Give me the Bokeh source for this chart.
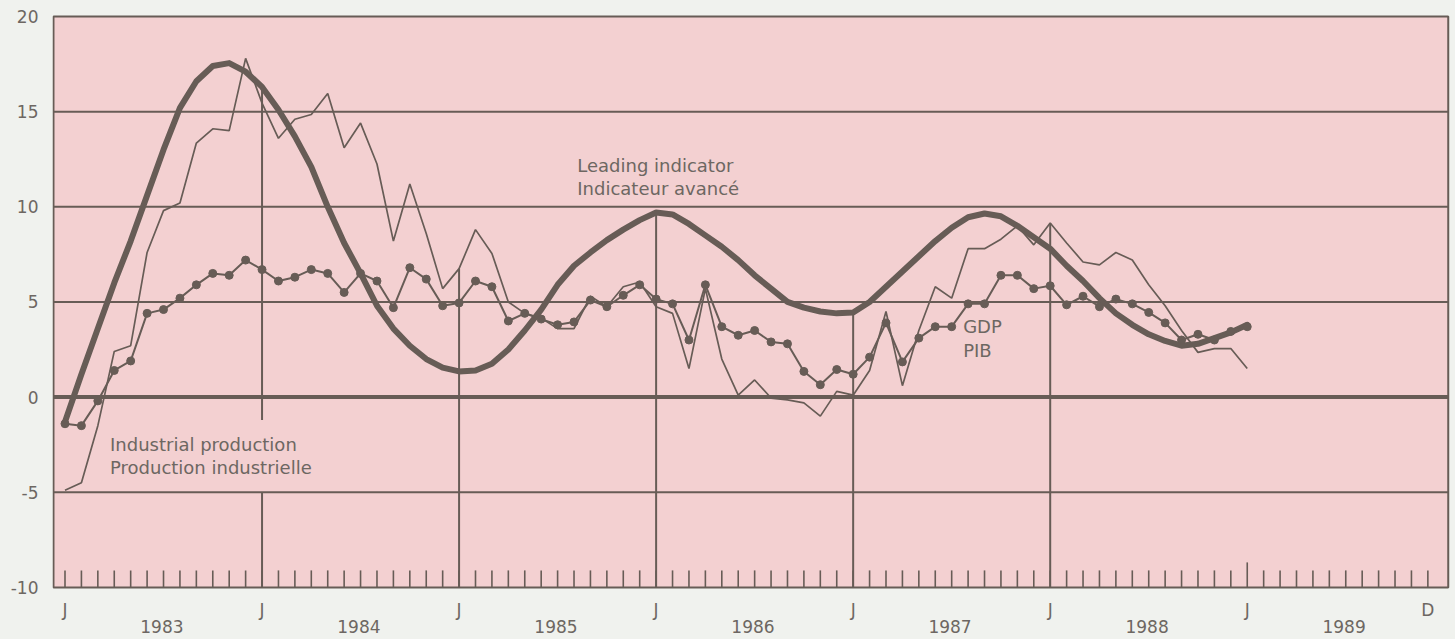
from bokeh.plotting import figure
from bokeh.models import FixedTicker
from bokeh.core.properties import value
from bokeh.embed import file_html
from bokeh.resources import INLINE

# ---------------- data (month index 0 = January 1983) ----------------
months = list(range(73))

leading = [-1.3, 1.2, 3.6, 6.0, 8.2, 10.6, 13.0, 15.2, 16.6, 17.4,
           17.55, 17.1, 16.3, 15.1, 13.7, 12.1, 10.0, 8.1, 6.5, 4.8,
           3.6, 2.7, 2.0, 1.55, 1.35, 1.4, 1.75, 2.5, 3.5, 4.6,
           5.9, 6.9, 7.6, 8.25, 8.8, 9.3, 9.7, 9.6, 9.1, 8.5,
           7.9, 7.2, 6.4, 5.7, 5.0, 4.7, 4.5, 4.4, 4.45, 5.0,
           5.8, 6.6, 7.4, 8.2, 8.9, 9.45, 9.65, 9.5, 9.0, 8.4,
           7.8, 6.9, 6.1, 5.2, 4.4, 3.8, 3.3, 2.95, 2.7, 2.8,
           3.1, 3.4, 3.8]

gdp = [-1.4, -1.5, -0.2, 1.4, 1.9, 4.4, 4.6, 5.2, 5.9, 6.5,
       6.4, 7.2, 6.7, 6.1, 6.3, 6.7, 6.5, 5.5, 6.5, 6.1,
       4.7, 6.8, 6.2, 4.8, 4.95, 6.1, 5.8, 4.0, 4.4, 4.1,
       3.8, 3.95, 5.1, 4.75, 5.35, 5.9, 5.15, 4.9, 3.0, 5.9,
       3.7, 3.25, 3.5, 2.9, 2.8, 1.35, 0.65, 1.45, 1.2, 2.1,
       3.9, 1.85, 3.1, 3.7, 3.7, 4.9, 4.9, 6.4, 6.4, 5.7,
       5.85, 4.85, 5.3, 4.75, 5.15, 4.9, 4.45, 3.9, 3.0, 3.3,
       3.0, 3.45, 3.7]

industrial = [-4.9, -4.5, -1.5, 2.4, 2.7, 7.6, 9.8, 10.2, 13.35, 14.1,
              14.0, 17.8, 15.45, 13.6, 14.6, 14.85, 15.95, 13.1, 14.4, 12.25,
              8.2, 11.2, 8.6, 5.7, 6.75, 8.8, 7.55, 5.0, 4.4, 4.15,
              3.6, 3.6, 5.3, 4.75, 5.8, 6.05, 4.75, 4.4, 1.5, 5.7,
              2.0, 0.1, 0.9, -0.05, -0.15, -0.3, -1.0, 0.3, 0.1, 1.4,
              4.5, 0.6, 3.5, 5.8, 5.2, 7.8, 7.8, 8.3, 9.0, 8.0,
              9.15, 8.1, 7.1, 6.95, 7.6, 7.2, 5.9, 4.8, 3.5, 2.35,
              2.55, 2.55, 1.5]

y_ticks = [-10, -5, 0, 5, 10, 15, 20]
y_tick_labels = ["-10", "-5", "0", "5", "10", "15", "20"]
x_label_months = [0, 12, 24, 36, 48, 60, 72, 83]
x_labels = ["J", "J", "J", "J", "J", "J", "J", "D"]
years = ["1983", "1984", "1985", "1986", "1987", "1988", "1989"]
year_drop_months = [12, 24, 36, 48, 60]

# ---------------- styling ----------------
PAGE = "#f0f2ee"
PINK = "#f3d0d1"
INK = "#675c56"
TXT = "#6d6762"
FONT = "DejaVu Sans"

W, H = 1453, 637
PX_UNIT = 19.03
PX_MONTH = 16.42
LEFT = 52
TOP_PAD = 16
y_top = 20 + TOP_PAD / PX_UNIT
y_bot = y_top - H / PX_UNIT
x_start = -12.5 / PX_MONTH
x_end = x_start + (W - LEFT) / PX_MONTH

p = figure(width=W, height=H, x_range=(x_start, x_end), y_range=(y_bot, y_top),
           output_backend="svg", toolbar_location=None, x_axis_location=None,
           min_border_left=LEFT, min_border_right=0, min_border_top=0, min_border_bottom=0,
           background_fill_color=PAGE, border_fill_color=PAGE, outline_line_color=None)
p.grid.visible = False

ax = p.yaxis[0]
ax.ticker = FixedTicker(ticks=y_ticks)
ax.major_label_overrides = dict(zip(y_ticks, y_tick_labels))
ax.axis_line_color = None
ax.major_tick_line_color = None
ax.minor_tick_line_color = None
ax.major_tick_out = 0
ax.major_tick_in = 0
ax.minor_tick_out = 0
ax.major_label_text_font = FONT
ax.major_label_text_font_size = "17px"
ax.major_label_text_color = TXT
ax.major_label_standoff = 14

# plot panel
x_left, x_right = x_start + 0.06, x_end - 0.32
p.quad(left=[x_left], right=[x_right], bottom=[-10], top=[20],
       fill_color=PINK, line_color=INK, line_width=2)

# horizontal grid lines
grid_y = [t for t in y_ticks if -10 < t < 20]
p.segment(x0=[x_left] * len(grid_y), x1=[x_right] * len(grid_y), y0=grid_y, y1=grid_y,
          line_color=INK, line_width=[4 if t == 0 else 2 for t in grid_y])

# month ticks
tick_len = 17 / PX_UNIT
tm = list(range(0, 84))
p.segment(x0=tm, x1=tm, y0=[-10] * len(tm),
          y1=[-10 + (25 / PX_UNIT if m == 72 else tick_len) for m in tm],
          line_color=INK, line_width=1.6)

# drop lines at each January
gap = (-5, -1.2)  # interruption around the industrial production label
x0s, y0s, y1s = [], [], []
for m in year_drop_months:
    top = max(leading[m], industrial[m], gdp[m])
    if m == 12:
        x0s += [m, m]; y0s += [-10, gap[1]]; y1s += [gap[0], top]
    else:
        x0s.append(m); y0s.append(-10); y1s.append(top)
p.segment(x0=x0s, x1=x0s, y0=y0s, y1=y1s, line_color=INK, line_width=2)

# series
p.line(months, industrial, line_color=INK, line_width=1.7)
p.line(months, leading, line_color=INK, line_width=6, line_join="round", line_cap="round")
p.line(months, gdp, line_color=INK, line_width=2)
p.scatter(months, gdp, size=8, fill_color=INK, line_color=INK)

# x labels
p.text(x=x_label_months, y=[-10 - 23 / PX_UNIT] * len(x_label_months), text=x_labels,
       text_font=value(FONT), text_font_size=value("17px"), text_color=TXT,
       text_align="center", text_baseline="middle")
p.text(x=[12 * i + 5.9 for i in range(len(years))], y=[-10 - 39 / PX_UNIT] * len(years),
       text=years, text_font=value(FONT), text_font_size=value("17px"), text_color=TXT,
       text_align="center", text_baseline="middle")

# annotations
ann_x = [31.2, 31.2, 2.74, 2.74, 54.7, 54.7]
ann_y = [12.19, 10.98, -2.47, -3.68, 3.73, 2.47]
ann_t = ["Leading indicator", "Indicateur avancé", "Industrial production",
         "Production industrielle", "GDP", "PIB"]
p.text(x=ann_x, y=ann_y, text=ann_t, text_font=value(FONT), text_font_size=value("18px"),
       text_color=TXT, text_align="left", text_baseline="middle")

html = file_html(p, INLINE, title="Leading indicator")
html = html.replace("<head>", "<head><style>body{background-color:%s;}</style>" % PAGE, 1)
open("out.html", "w").write(html)
